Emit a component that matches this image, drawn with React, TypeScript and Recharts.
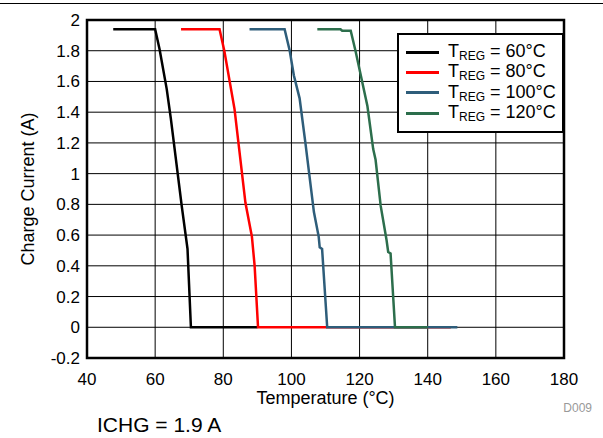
import { LineChart, Line, XAxis, YAxis, CartesianGrid, ReferenceArea, Legend } from "recharts";

// Charge current vs temperature, one series per TREG setting
const seriesNames = ["60°C", "80°C", "100°C", "120°C"];
const seriesColors = ["#000000", "#ff0000", "#2e5d7a", "#2c6e4c"];

const treg60 = [
  { t: 47.7, i: 1.94 }, { t: 60.0, i: 1.94 }, { t: 61.3, i: 1.81 }, { t: 63.4, i: 1.55 },
  { t: 64.6, i: 1.36 }, { t: 67.8, i: 0.79 }, { t: 69.5, i: 0.51 }, { t: 70.5, i: 0.0 },
  { t: 90.0, i: 0.0 },
];
const treg80 = [
  { t: 67.6, i: 1.94 }, { t: 78.9, i: 1.94 }, { t: 80.3, i: 1.8 }, { t: 83.3, i: 1.42 },
  { t: 86.5, i: 0.81 }, { t: 88.4, i: 0.59 }, { t: 89.2, i: 0.4 }, { t: 90.2, i: 0.0 },
  { t: 146.8, i: 0.0 },
];
const treg100 = [
  { t: 87.7, i: 1.94 }, { t: 98.0, i: 1.94 }, { t: 99.5, i: 1.8 }, { t: 100.7, i: 1.64 },
  { t: 102.4, i: 1.49 }, { t: 104.1, i: 1.2 }, { t: 106.6, i: 0.75 }, { t: 108.0, i: 0.59 },
  { t: 108.3, i: 0.52 }, { t: 109.0, i: 0.51 }, { t: 110.5, i: 0.0 }, { t: 148.7, i: 0.0 },
];
const treg120 = [
  { t: 107.6, i: 1.94 }, { t: 114.4, i: 1.94 }, { t: 114.9, i: 1.93 }, { t: 117.4, i: 1.93 },
  { t: 118.8, i: 1.8 }, { t: 122.3, i: 1.44 }, { t: 124.0, i: 1.16 }, { t: 124.7, i: 1.09 },
  { t: 126.2, i: 0.79 }, { t: 127.9, i: 0.57 }, { t: 128.4, i: 0.49 }, { t: 129.1, i: 0.48 },
  { t: 130.4, i: 0.0 }, { t: 140.0, i: 0.0 },
];

const xTicks = [40, 60, 80, 100, 120, 140, 160, 180];
const yTicks = [-0.2, 0, 0.2, 0.4, 0.6, 0.8, 1, 1.2, 1.4, 1.6, 1.8, 2];

const font = "Arial, 'Liberation Sans', sans-serif";

const LegendBox = () => (
  <div
    style={{
      width: 167,
      height: 100,
      boxSizing: "border-box",
      border: "2.5px solid #000",
      background: "#fff",
      fontFamily: font,
      paddingTop: 7,
    }}
  >
    {seriesNames.map((name, k) => (
      <div key={name} style={{ display: "flex", alignItems: "center", height: 20.3 }}>
        <div style={{ marginLeft: 7, width: 33, height: 3, background: seriesColors[k] }} />
        <span style={{ marginLeft: 9, fontSize: 18, color: "#000", whiteSpace: "nowrap", lineHeight: "20px" }}>
          T<span style={{ fontSize: 12, position: "relative", top: 3 }}>REG</span> = {name}
        </span>
      </div>
    ))}
  </div>
);

const YTitle = ({ viewBox }: any) => {
  const cx = 28;
  const cy = viewBox.y + viewBox.height / 2;
  return (
    <text x={cx} y={cy} transform={`rotate(-90 ${cx} ${cy})`} textAnchor="middle" dominantBaseline="central" fontSize={18} fontFamily={font} fill="#000">
      Charge Current (A)
    </text>
  );
};

export default function App() {
  const series = [treg60, treg80, treg100, treg120];
  return (
    <div style={{ position: "absolute", left: 0, top: 0, width: 603, height: 438, background: "#fff", overflow: "hidden" }}>
      <div style={{ position: "absolute", left: 0, top: 3, width: 603, height: 1, background: "#000" }} />
      <LineChart width={603} height={438} margin={{ top: 20, right: 39, bottom: 50, left: 37 }}>
        <CartesianGrid stroke="#000" strokeWidth={1} />
        <XAxis
          type="number"
          dataKey="t"
          domain={[40, 180]}
          ticks={xTicks}
          height={30}
          tickLine={false}
          axisLine={false}
          tickSize={0}
          tickMargin={15}
          tick={{ fontSize: 17, fontFamily: font, fill: "#000" }}
          allowDataOverflow
          label={{ value: "Temperature (°C)", position: "bottom", offset: 3, fontSize: 18, fontFamily: font, fill: "#000" }}
        />
        <YAxis
          type="number"
          domain={[-0.2, 2]}
          ticks={yTicks}
          width={50}
          tickLine={false}
          axisLine={false}
          tickSize={0}
          tickMargin={7}
          tick={{ fontSize: 17, fontFamily: font, fill: "#000" }}
          tickFormatter={(v: number) => String(Number(v.toFixed(1)))}
          allowDataOverflow
          label={<YTitle />}
        />
        {series.map((d, k) => (
          <Line
            key={seriesNames[k]}
            data={d}
            dataKey="i"
            name={seriesNames[k]}
            type="linear"
            stroke={seriesColors[k]}
            strokeWidth={2.5}
            dot={false}
            isAnimationActive={false}
          />
        ))}
        <ReferenceArea x1={40} x2={180} y1={-0.2} y2={2} fill="none" stroke="#000" strokeWidth={2.5} />
        <Legend
          layout="vertical"
          align="center"
          verticalAlign="middle"
          content={() => <LegendBox />}
          wrapperStyle={{ left: 397, top: 33, width: 167, height: 100 }}
        />
      </LineChart>
      <div style={{ position: "absolute", right: 11, top: 401, fontSize: 12, color: "#999", fontFamily: font }}>D009</div>
      <div style={{ position: "absolute", left: 97, top: 413, fontSize: 21, color: "#000", fontFamily: font, lineHeight: "24px" }}>
        ICHG = 1.9 A
      </div>
    </div>
  );
}
